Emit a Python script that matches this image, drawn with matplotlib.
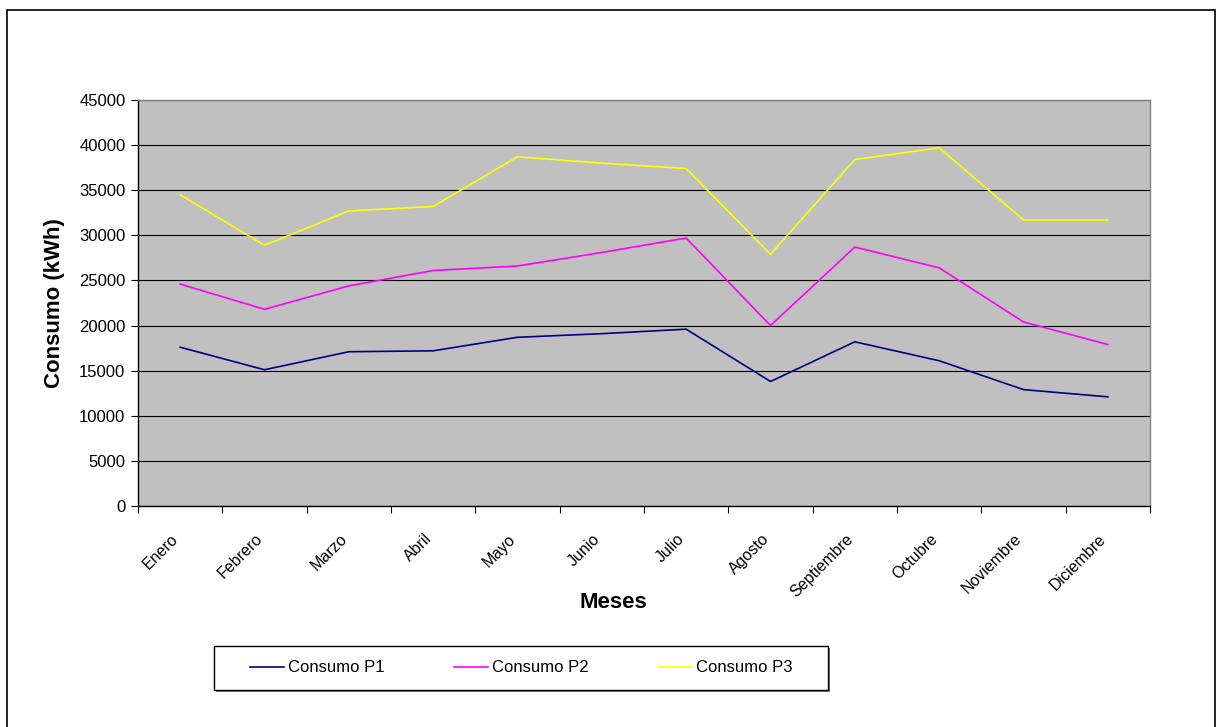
import matplotlib
matplotlib.use("Agg")
import matplotlib.pyplot as plt
from matplotlib.patches import Rectangle
from matplotlib.transforms import ScaledTranslation

plt.rcParams['font.family'] = ['Liberation Sans', 'DejaVu Sans']

meses = ['Enero', 'Febrero', 'Marzo', 'Abril', 'Mayo', 'Junio', 'Julio',
         'Agosto', 'Septiembre', 'Octubre', 'Noviembre', 'Diciembre']
consumo_p1 = [17600, 15100, 17100, 17200, 18700, 19100, 19600,
              13800, 18200, 16100, 12900, 12100]
consumo_p2 = [24600, 21800, 24400, 26100, 26600, 28100, 29700,
              20000, 28700, 26400, 20400, 17900]
consumo_p3 = [34500, 28900, 32700, 33200, 38700, 38000, 37400,
              27900, 38400, 39700, 31700, 31700]
y_ticks = [0, 5000, 10000, 15000, 20000, 25000, 30000, 35000, 40000, 45000]

W, H, DPI = 1217, 727, 100
fig = plt.figure(figsize=(W / DPI, H / DPI), dpi=DPI)
fig.patch.set_facecolor('white')

def px_rect(x0, y0, x1, y1):
    # pixel box (top-left origin) -> figure fraction rect
    return [x0 / W, 1 - y1 / H, (x1 - x0) / W, (y1 - y0) / H]

ax = fig.add_axes(px_rect(138, 100, 1150, 506))
ax.set_facecolor('#C0C0C0')

x = list(range(len(meses)))
ax.plot(x, consumo_p1, color='#000080', lw=1.2, label='Consumo P1', zorder=3)
ax.plot(x, consumo_p2, color='#FF00FF', lw=1.2, label='Consumo P2', zorder=3)
ax.plot(x, consumo_p3, color='#FFFF00', lw=1.2, label='Consumo P3', zorder=3)

ax.set_xlim(-0.5, len(meses) - 0.5)
ax.set_ylim(0, 45000)

# horizontal gridlines
ax.set_yticks(y_ticks)
ax.set_yticklabels([str(v) for v in y_ticks], fontsize=12)
ax.yaxis.grid(True, color='#000000', lw=0.8, zorder=1)
ax.set_axisbelow(True)
ax.tick_params(axis='y', direction='out', length=5, width=0.8, pad=4)

# ticks on category boundaries, labels at category centres
ax.set_xticks([i - 0.5 for i in range(len(meses) + 1)])
ax.set_xticklabels([])
ax.tick_params(axis='x', which='major', direction='out', length=5, width=0.8)
ax.set_xticks(x, minor=True)
ax.set_xticklabels(meses, minor=True, fontsize=11.5, rotation=45,
                   ha='right', va='center', rotation_mode='anchor')
ax.tick_params(axis='x', which='minor', length=0, pad=22)
for lab in ax.get_xticklabels(minor=True):
    lab.set_transform(lab.get_transform() +
                      ScaledTranslation(-4 / DPI, 0, fig.dpi_scale_trans))

for side in ('left', 'bottom'):
    ax.spines[side].set_color('black')
    ax.spines[side].set_linewidth(1.0)
for side in ('top', 'right'):
    ax.spines[side].set_color('#808080')
    ax.spines[side].set_linewidth(1.0)

fig.text(55 / W, 1 - 303 / H, 'Consumo (kWh)', rotation=90, fontsize=16,
         fontweight='bold', ha='center', va='center')
fig.text(613 / W, 1 - 602 / H, 'Meses', fontsize=16, fontweight='bold',
         ha='center', va='center')

# legend box with light shadow
fig.patches.append(Rectangle((216 / W, 1 - 692 / H), (828 - 214) / W, (690 - 646) / H,
                             transform=fig.transFigure, facecolor='#808080',
                             edgecolor='none', zorder=1))
fig.patches.append(Rectangle((214 / W, 1 - 690 / H), (828 - 214) / W, (690 - 646) / H,
                             transform=fig.transFigure, facecolor='white',
                             edgecolor='black', lw=1.0, zorder=2))
leg = fig.legend(loc='center left', bbox_to_anchor=(242 / W, 1 - 668 / H),
                 ncol=3, frameon=False, fontsize=12, borderpad=0,
                 handlelength=2.0, handletextpad=0.25, columnspacing=4.2)
leg.set_zorder(3)

# outer chart border
fig.patches.append(Rectangle((7 / W, 1 - 740 / H), (1215 - 7) / W, (740 - 10) / H,
                             transform=fig.transFigure, facecolor='none',
                             edgecolor='black', lw=1.2, zorder=0))

fig.savefig('out.png', dpi=DPI, facecolor='white')
